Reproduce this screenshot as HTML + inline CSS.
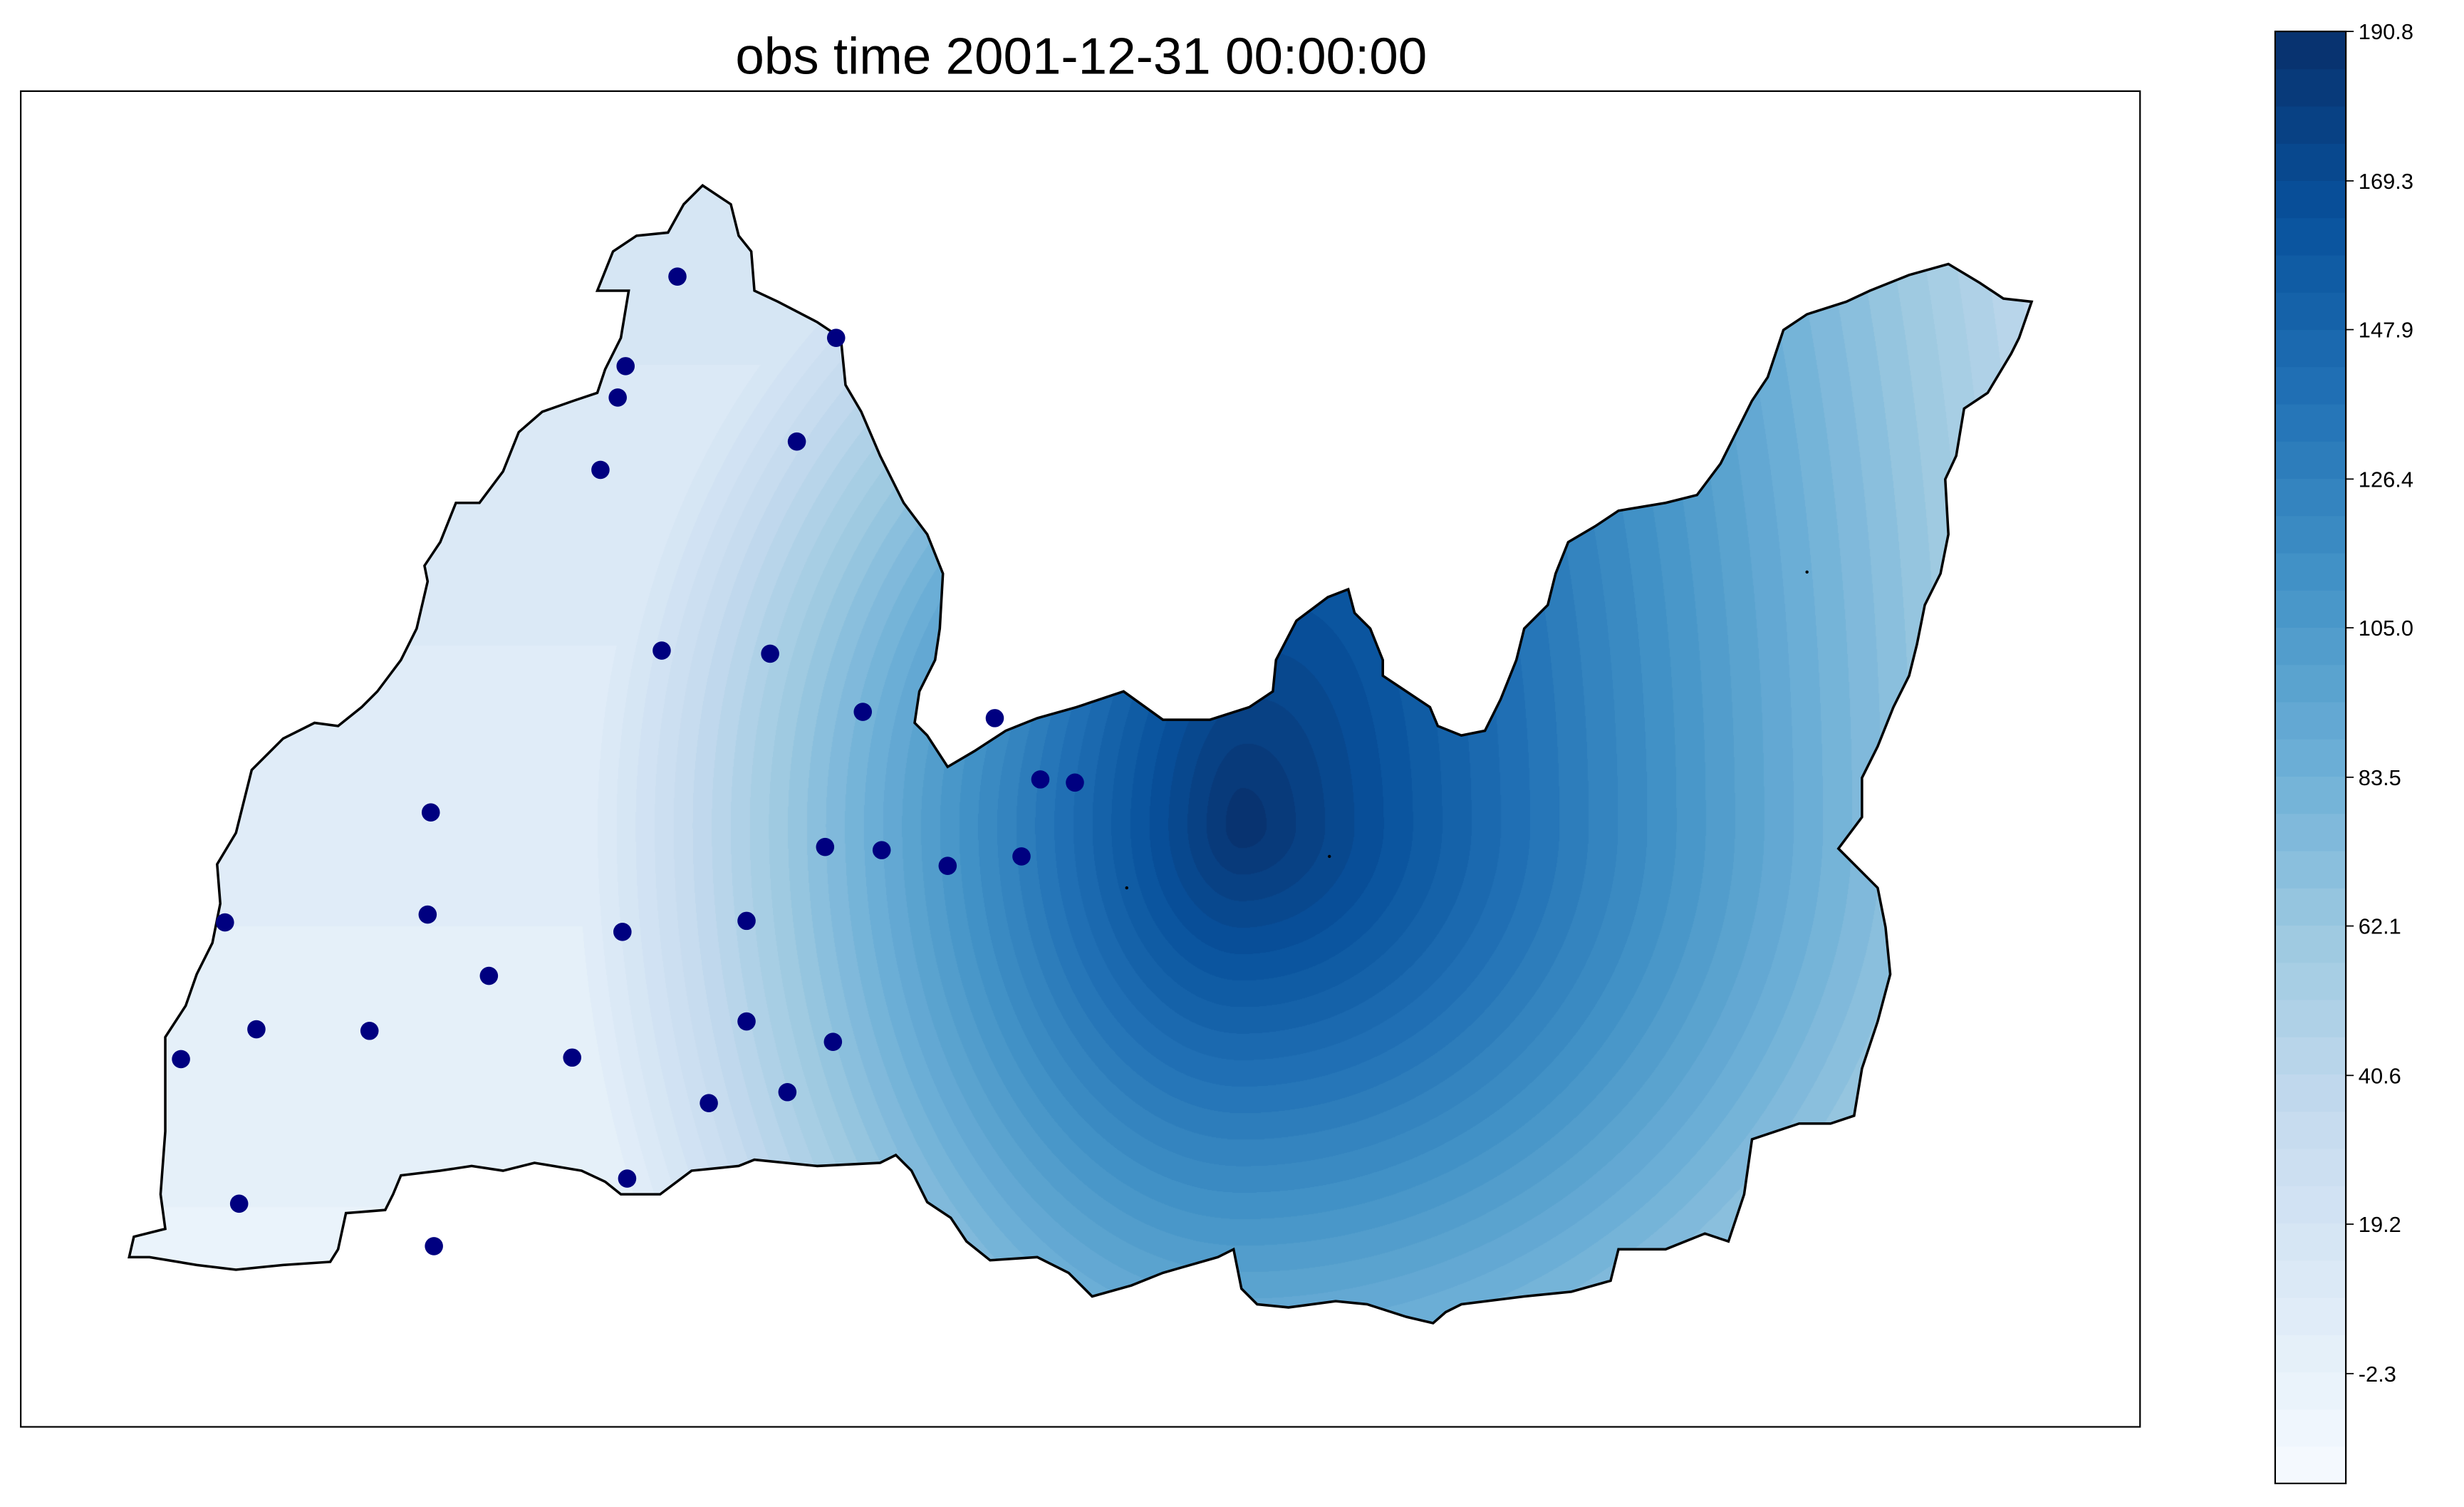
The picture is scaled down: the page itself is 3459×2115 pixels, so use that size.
<!DOCTYPE html>
<html><head><meta charset="utf-8"><style>
html,body{margin:0;padding:0;background:#fff;}
#wrap{position:relative;width:3459px;height:2115px;overflow:hidden;}
#field{position:absolute;left:0;top:0;}
#ov{position:absolute;left:0;top:0;}
</style></head><body>
<div id="wrap">
<canvas id="field" width="3459" height="2115"></canvas>
<svg id="ov" width="3459" height="2115" viewBox="0 0 1568 959">
<text x="688" y="47" text-anchor="middle" font-family="'Liberation Sans','Noto Sans CJK SC',sans-serif" font-size="33" fill="#000">obs time 2001-12-31 00:00:00</text>
<rect x="13" y="58" width="1349" height="850" fill="none" stroke="#000" stroke-width="1"/>
<path id="outline" fill="none" stroke="#000" stroke-width="1.6"/>
<g id="stations"></g>
<g id="cbar"></g>
</svg>
</div>
<script>
// ---- data ----
const outlineX=[447,465,470,478,480,495,520,535,538,548,560,575,590,600,598,595,585,582,590,603,620,640,660,685,715,740,770,795,810,812,825,845,858,862,872,880,880,895,910,915,930,945,955,965,970,985,990,998,1015,1030,1060,1080,1095,1105,1115,1125,1135,1150,1175,1190,1215,1240,1260,1275,1293,1285,1280,1265,1250,1245,1238,1240,1235,1225,1220,1215,1205,1195,1185,1185,1170,1185,1195,1200,1203,1195,1185,1180,1165,1145,1115,1110,1100,1085,1060,1030,1025,1000,970,930,920,912,895,870,850,820,800,790,785,775,740,720,695,680,660,630,615,605,590,580,570,560,520,480,470,440,420,395,385,370,340,320,300,280,255,250,245,220,215,210,180,150,125,95,82,85,105,102,105,105,105,118,125,135,140,138,150,155,160,180,200,215,230,240,255,265,272,270,280,290,305,320,330,345,365,380,385,395,400,380,390,405,425,435];
const outlineY=[118,130,150,160,185,192,205,215,245,262,290,320,340,365,400,420,440,460,468,488,478,465,457,450,440,458,458,450,440,420,395,380,375,390,400,420,430,440,450,462,468,465,445,420,400,385,365,345,335,325,320,315,295,275,255,240,210,200,192,185,175,168,180,190,192,215,225,250,260,290,305,340,365,385,410,430,450,475,495,520,540,555,565,590,620,650,680,710,715,715,725,760,790,785,795,795,815,822,825,830,835,842,838,830,828,832,830,820,795,800,810,818,825,810,800,802,790,775,765,745,735,740,742,738,742,745,760,760,752,745,740,745,742,745,748,760,770,772,795,803,805,808,805,800,800,787,782,760,720,690,660,640,620,600,575,550,530,510,490,470,460,462,450,440,420,400,370,360,345,320,320,300,275,262,255,250,235,215,185,185,160,150,148,130];
const stationX=[431,532,398,393,507,382,421,490,549,633,662,684,274,525,561,603,650,143,272,396,475,311,163,235,475,530,115,364,501,451,399,152,276];
const stationY=[176,215,233,253,281,299,414,416,453,457,496,498,517,539,541,551,545,587,582,593,586,621,655,656,650,663,674,673,695,702,750,766,793];
const markX=[1150,846,717], markY=[364,545,565];
// field model: peak location/value and spreads (left,right,up-right,down,up-left)
const peakXY=[790,525], peakValue=[190], fieldSlope=[115], spreads=[260,400,900,362,300];
const tickValues=[190.8,169.3,147.9,126.4,105.0,83.5,62.1,40.6,19.2,-2.3];
const tickLabels=["190.8","169.3","147.9","126.4","105.0","83.5","62.1","40.6","19.2","-2.3"];
const vmin=-18.1, vmax=190.8, nBands=39;

const S=3459/1568;
const anchors=["#f7fbff","#deebf7","#c6dbef","#9ecae1","#6baed6","#4292c6","#2171b5","#08519c","#08306b"].map(h=>[parseInt(h.substr(1,2),16),parseInt(h.substr(3,2),16),parseInt(h.substr(5,2),16)]);
function blues(t){t=Math.max(0,Math.min(1,t));const p=t*8,i=Math.min(7,Math.floor(p)),f=p-i;const a=anchors[i],b=anchors[i+1];return [a[0]+(b[0]-a[0])*f,a[1]+(b[1]-a[1])*f,a[2]+(b[2]-a[2])*f];}
const bw=(vmax-vmin)/nBands;
function bandColor(v){let k=Math.floor((v-vmin)/bw);k=Math.max(0,Math.min(nBands-1,k));return blues((k+0.5)/nBands);}
function fieldAt(x,y){const dx=x-peakXY[0],dy=y-peakXY[1];const sx=dx<0?spreads[0]:spreads[1];
  // up spread blends from up-left to up-right across the peak
  const t=Math.max(0,Math.min(1,(dx+150)/300));const su=spreads[4]*(1-t)+spreads[2]*t;
  const sy=dy<0?su:spreads[3];const d=Math.sqrt((dx/sx)**2+(dy/sy)**2);const v=peakValue[0]-fieldSlope[0]*d;const floor=15-0.03*(y-200);return Math.max(v,floor);}

let dstr="M"+outlineX.map((x,i)=>x+","+outlineY[i]).join(" L")+" Z";
document.getElementById('outline').setAttribute('d',dstr);

const cv=document.getElementById('field'),ctx=cv.getContext('2d');
const off=document.createElement('canvas');off.width=3459;off.height=2115;const octx=off.getContext('2d');
const x0=Math.floor(70*S),x1=Math.ceil(1300*S),y0=Math.floor(110*S),y1=Math.ceil(850*S);
const img=octx.createImageData(x1-x0,y1-y0);
for(let py=y0;py<y1;py++){for(let px=x0;px<x1;px++){const c=bandColor(fieldAt(px/S,py/S));const o=((py-y0)*(x1-x0)+(px-x0))*4;img.data[o]=c[0];img.data[o+1]=c[1];img.data[o+2]=c[2];img.data[o+3]=255;}}
octx.putImageData(img,x0,y0);
ctx.save();ctx.scale(S,S);ctx.beginPath();outlineX.forEach((x,i)=>{i?ctx.lineTo(x,outlineY[i]):ctx.moveTo(x,outlineY[i]);});ctx.closePath();ctx.clip();ctx.setTransform(1,0,0,1,0,0);ctx.drawImage(off,0,0);ctx.restore();

const NS="http://www.w3.org/2000/svg";
const sg=document.getElementById('stations');
for(let i=0;i<stationX.length;i++){const c=document.createElementNS(NS,'circle');c.setAttribute('cx',stationX[i]);c.setAttribute('cy',stationY[i]);c.setAttribute('r',5.8);c.setAttribute('fill','#000080');


sg.appendChild(c);}
for(let i=0;i<markX.length;i++){const c=document.createElementNS(NS,'circle');c.setAttribute('cx',markX[i]);c.setAttribute('cy',markY[i]);c.setAttribute('r',1);c.setAttribute('fill','#000');


sg.appendChild(c);}

const cb=document.getElementById('cbar');const cbL=1448,cbR=1493,cbT=20,cbB=944;
const yOf=v=>cbB-(v-vmin)/(vmax-vmin)*(cbB-cbT);
for(let k=0;k<nBands;k++){const c=blues((k+0.5)/nBands);const r=document.createElementNS(NS,'rect');const ya=yOf(vmin+(k+1)*bw),yb=yOf(vmin+k*bw);r.setAttribute('x',cbL);r.setAttribute('y',ya);r.setAttribute('width',cbR-cbL);r.setAttribute('height',yb-ya+0.4);r.setAttribute('fill','rgb('+c.map(Math.round).join(',')+')');


cb.appendChild(r);}
const fr=document.createElementNS(NS,'rect');fr.setAttribute('x',cbL);fr.setAttribute('y',cbT);fr.setAttribute('width',cbR-cbL);fr.setAttribute('height',cbB-cbT);fr.setAttribute('fill','none');fr.setAttribute('stroke','#000');fr.setAttribute('stroke-width','1');


cb.appendChild(fr);
tickValues.forEach((v,i)=>{const y=yOf(v);const l=document.createElementNS(NS,'line');l.setAttribute('x1',cbR);l.setAttribute('x2',cbR+5);l.setAttribute('y1',y);l.setAttribute('y2',y);l.setAttribute('stroke','#000');l.setAttribute('stroke-width','0.8');


cb.appendChild(l);
const t=document.createElementNS(NS,'text');t.setAttribute('x',cbR+8);t.setAttribute('y',y+5);t.setAttribute('font-size','14');t.setAttribute('font-family',"'Liberation Sans',sans-serif");t.textContent=tickLabels[i];


cb.appendChild(t);});
</script>
</body></html>
